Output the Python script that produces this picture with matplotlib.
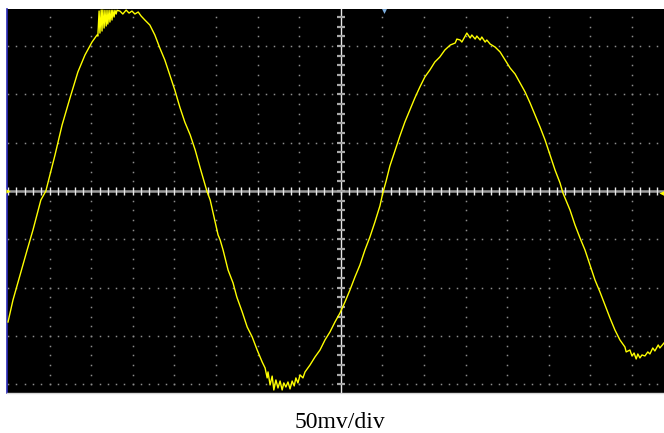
import matplotlib
matplotlib.use('Agg')
import matplotlib.pyplot as plt
import numpy as np

# scope trace: time in divisions, voltage in mV
time_div = [
    0.00, 0.12, 0.29, 0.46, 0.60, 0.79, 0.91, 1.13, 1.30, 1.49, 1.68, 1.85, 2.02, 2.14,
    2.16, 2.19, 2.21, 2.24, 2.26, 2.28, 2.31, 2.33, 2.36, 2.38, 2.40, 2.43, 2.45, 2.48,
    2.50, 2.52, 2.55, 2.57, 2.60, 2.62,
    2.69, 2.76, 2.84, 2.91, 2.98, 3.05, 3.13, 3.20,
    3.29, 3.41, 3.53, 3.65, 3.77, 3.89, 4.01, 4.13, 4.25, 4.38, 4.50, 4.62, 4.74, 4.78,
    4.86, 4.93, 5.05, 5.10, 5.17, 5.29, 5.41, 5.50, 5.63, 5.75, 5.87, 5.99, 6.11,
    6.18, 6.23, 6.25, 6.30, 6.35, 6.39, 6.44, 6.49, 6.54, 6.59, 6.63, 6.68, 6.73, 6.78,
    6.83, 6.88, 6.92, 6.97, 7.02, 7.09, 7.14, 7.21, 7.26,
    7.38, 7.50, 7.62, 7.74, 7.86, 7.98, 8.10, 8.22, 8.34, 8.46, 8.58, 8.70, 8.82, 8.94,
    9.01, 9.09, 9.18, 9.30, 9.42, 9.54, 9.66, 9.78, 9.90, 10.02, 10.14, 10.26, 10.38,
    10.50, 10.63, 10.75,
    10.79, 10.87, 10.91, 10.99, 11.03, 11.11, 11.15, 11.23, 11.27, 11.35, 11.39, 11.47,
    11.51, 11.59, 11.71,
    11.83, 11.95, 12.07, 12.19, 12.31, 12.43, 12.55, 12.67, 12.79, 12.91, 13.03, 13.15,
    13.27, 13.34, 13.41, 13.51, 13.63, 13.75, 13.87, 13.99, 14.11, 14.23, 14.35, 14.47,
    14.59, 14.71, 14.83,
    14.86, 14.95, 15.00, 15.05, 15.10, 15.14, 15.19, 15.24, 15.31, 15.38, 15.43, 15.50,
    15.55, 15.63, 15.67, 15.77,
]
volt_mv = [
    -135.6, -112.8, -86.9, -61.1, -40.4, -9.3, 0.0, 37.3, 68.3, 96.3, 123.2, 140.8, 154.2, 161.5,
    160.4, 186.3, 163.5, 187.3, 165.6, 187.3, 168.7, 187.0, 170.8, 187.0, 172.8, 187.0, 174.9, 187.0,
    177.0, 187.0, 180.1, 187.0, 183.2, 187.0,
    186.3, 183.2, 187.3, 184.2, 186.3, 183.2, 185.3, 181.1,
    177.0, 171.8, 161.5, 148.0, 135.6, 120.1, 104.5, 86.9, 71.4, 58.0, 42.4, 23.8, 6.2, 0.0,
    -9.3, -22.8, -45.5, -50.7, -61.1, -81.8, -95.2, -109.7, -125.2, -140.8, -151.1, -164.6, -177.0,
    -183.2, -193.5, -187.3, -200.8, -191.6, -206.0, -195.6, -203.9, -196.7, -206.0, -198.7, -202.9, -197.7, -204.9,
    -196.7, -201.8, -193.5, -198.7, -190.4, -193.5, -187.3, -183.2, -180.1,
    -171.8, -164.6, -154.2, -145.9, -135.6, -126.3, -114.9, -102.5, -89.0, -76.6, -61.1, -47.6, -32.1, -15.5,
    -2.1, 10.4, 25.9, 41.4, 56.9, 71.4, 83.8, 96.3, 107.6, 118.0, 125.2, 133.5, 138.7,
    145.9, 151.1, 153.2,
    157.3, 156.3, 154.2, 160.4, 163.5, 158.4, 161.5, 157.3, 160.4, 156.3, 159.4, 154.2,
    156.3, 152.1, 149.0,
    143.9, 135.6, 127.3, 121.1, 111.8, 102.5, 91.1, 78.7, 66.2, 52.8, 37.3, 21.7,
    8.3, -2.1, -9.3, -19.7, -35.2, -48.6, -61.1, -76.6, -92.1, -104.5, -118.0, -131.4,
    -143.9, -154.2, -161.5,
    -166.6, -164.6, -170.8, -167.7, -173.9, -168.7, -172.8, -169.7, -170.8, -166.6, -168.7, -162.5,
    -165.6, -159.4, -162.5, -157.3,
]

MV_PER_DIV = 50
caption = '50mv/div'

W, H = 664, 433
PX_X = 41.6   # pixels per horizontal division
PX_Y = 48.3   # pixels per vertical division

fig = plt.figure(figsize=(W / 100, H / 100), dpi=100, facecolor='white')
ax = fig.add_axes([7 / W, 1 - 393 / H, (W - 7) / W, 384 / H])
ax.set_facecolor('black')
x_max = (W - 8) / PX_X
ax.set_xlim(-1 / PX_X, x_max)
ax.set_ylim(-(393 - 191) / PX_Y * MV_PER_DIV, (191 - 9) / PX_Y * MV_PER_DIV)
ax.set_xticks([])
ax.set_yticks([])
for s in ['top', 'right']:
    ax.spines[s].set_visible(False)
ax.spines['bottom'].set_color('#d8d8d8')
ax.spines['bottom'].set_linewidth(1.0)
ax.spines['left'].set_color('#2a2ab8')
ax.spines['left'].set_linewidth(1.2)

# dotted graticule
minor_x = np.arange(0, 16.01, 0.2)
minor_y = np.arange(-200, 191, 10)
for yv in [-200, -150, -100, -50, 50, 100, 150]:
    ax.plot(minor_x, np.full_like(minor_x, yv), ls='none', marker='s', ms=1.1,
            mec='none', mfc='#8c8c8c', zorder=1)
for xv in range(1, 16):
    if xv == 8:
        continue
    ax.plot(np.full_like(minor_y, xv, dtype=float), minor_y, ls='none', marker='s', ms=1.1,
            mec='none', mfc='#8c8c8c', zorder=1)

# centre cross with tick marks
ax.axhline(0, color='#9c9c9c', lw=1.8, zorder=2)
ax.vlines(minor_x, -4, 4, color='#e8e8e8', lw=1.0, zorder=2)
ax.axvline(8, color='#e6e6e6', lw=1.0, zorder=2)
ax.hlines(minor_y, 8 - 0.09, 8 + 0.09, color='#a8a8a8', lw=1.6, zorder=2)

ax.plot(time_div, volt_mv, color='#ffff00', lw=1.0, zorder=3)

# trigger / position markers
ax.plot([x_max - 0.05], [-2], marker='<', ms=5, color='#ffff00', mec='none', clip_on=False, zorder=4)
ax.plot([0.0], [0], marker='>', ms=3, color='#ffff00', mec='none', clip_on=False, zorder=4)
ax.plot([9.04], [186], marker='v', ms=3.5, color='#7fb0e0', mec='none', clip_on=False, zorder=4)

fig.text(340 / W, 1 - 428 / H, caption, ha='center', va='baseline',
         family=['Liberation Serif', 'DejaVu Serif'], fontsize=17, color='black')

fig.savefig('out.png', dpi=100, facecolor='white')
